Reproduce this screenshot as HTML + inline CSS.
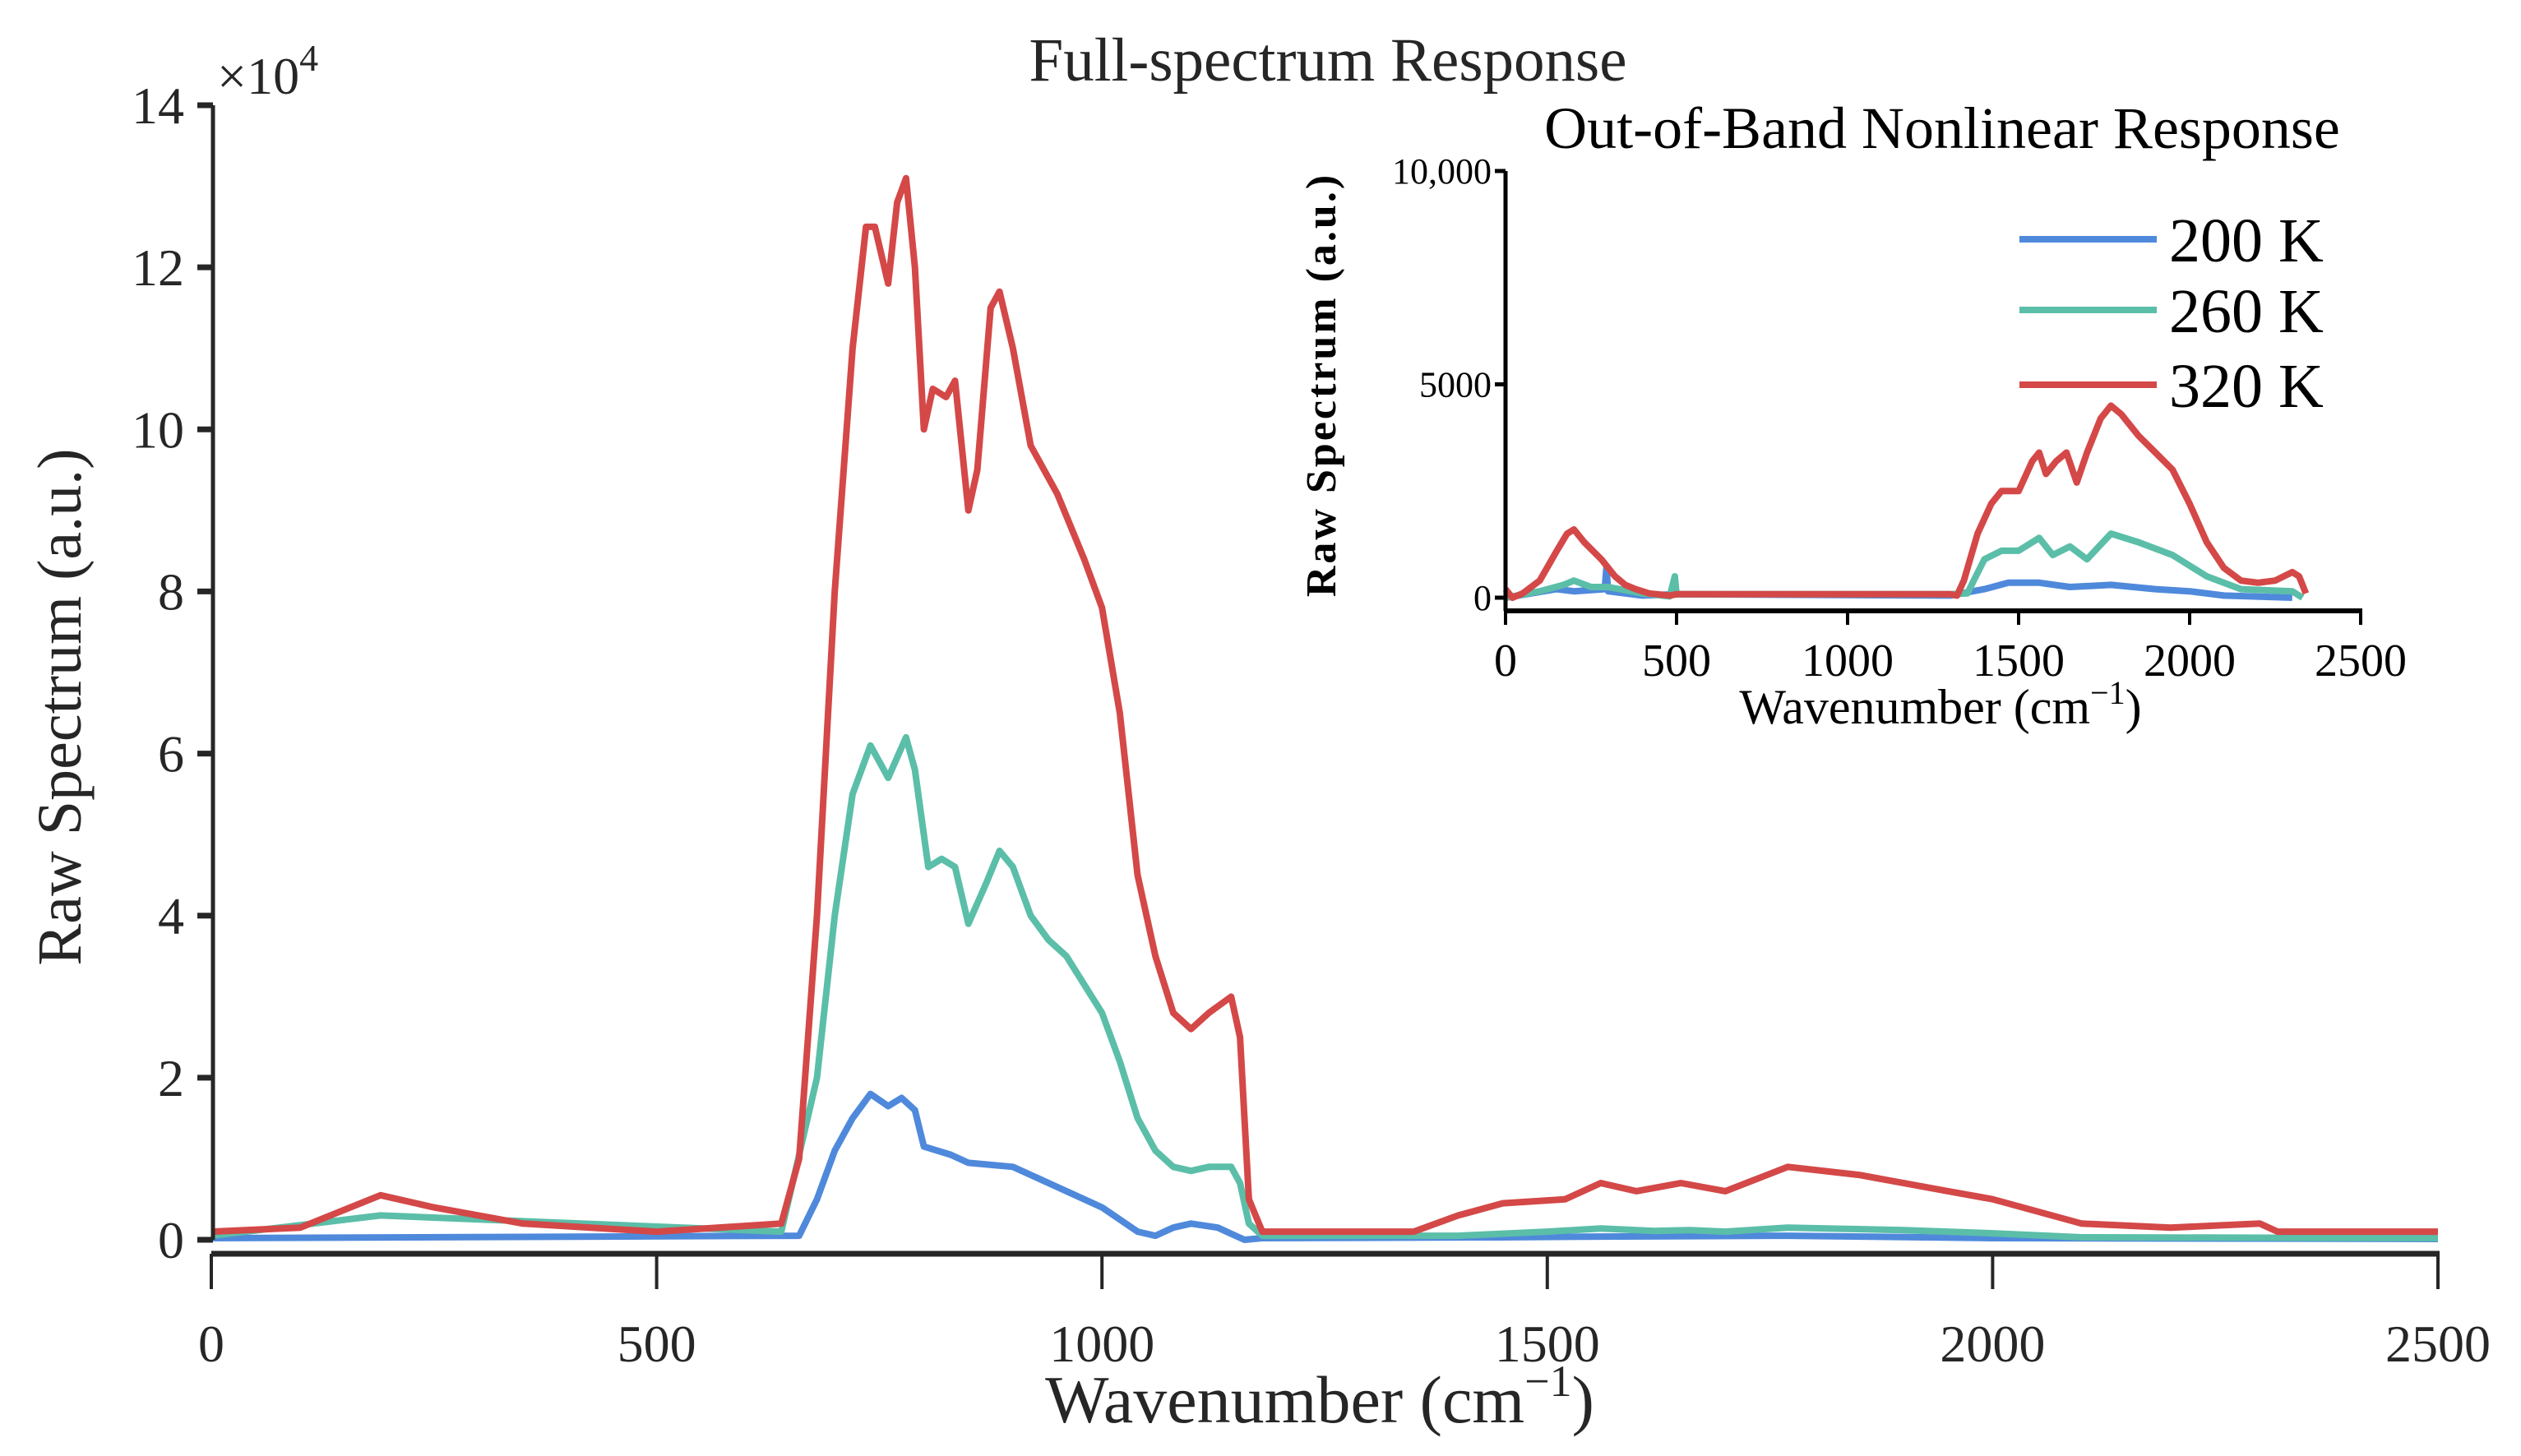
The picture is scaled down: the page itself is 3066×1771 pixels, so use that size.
<!DOCTYPE html>
<html><head><meta charset="utf-8"><style>
html,body{margin:0;padding:0;background:#fff;}
svg{display:block;font-family:"Liberation Serif",serif;}
</style></head><body>
<svg id="chart" width="3066" height="1771" viewBox="0 0 3066 1771" xmlns="http://www.w3.org/2000/svg">
<g id="main"></g>
<g id="inset"></g>
</svg>
<script>
// ---- main chart data (units of 1e4) ----
const mainX320 = [0,100,190,250,350,500,640,660,680,700,720,735,745,760,770,780,790,800,810,825,835,850,860,875,885,900,920,950,980,1000,1020,1040,1060,1080,1100,1120,1145,1155,1165,1180,1350,1400,1450,1520,1560,1600,1650,1700,1770,1850,1950,2000,2100,2200,2300,2320,2500];
const mainY320 = [0.1,0.15,0.55,0.4,0.2,0.1,0.2,1,4,8,11,12.5,12.5,11.8,12.8,13.1,12,10,10.5,10.4,10.6,9,9.5,11.5,11.7,11,9.8,9.2,8.4,7.8,6.5,4.5,3.5,2.8,2.6,2.8,3,2.5,0.5,0.1,0.1,0.3,0.45,0.5,0.7,0.6,0.7,0.6,0.9,0.8,0.6,0.5,0.2,0.15,0.2,0.1,0.1];
const mainX260 = [0,190,640,680,700,720,740,760,780,790,805,820,835,850,870,885,900,920,940,960,1000,1020,1040,1060,1080,1100,1120,1145,1155,1165,1180,1400,1500,1560,1620,1660,1700,1770,1900,2000,2100,2500];
const mainY260 = [0.05,0.3,0.1,2,4,5.5,6.1,5.7,6.2,5.8,4.6,4.7,4.6,3.9,4.4,4.8,4.6,4,3.7,3.5,2.8,2.2,1.5,1.1,0.9,0.85,0.9,0.9,0.7,0.2,0.05,0.05,0.1,0.14,0.11,0.12,0.1,0.15,0.12,0.08,0.03,0.02];
const mainX200 = [0,660,680,700,720,740,760,775,790,800,830,850,900,920,940,980,1000,1040,1060,1080,1100,1130,1150,1160,1180,1450,1560,1770,2000,2500];
const mainY200 = [0.02,0.05,0.5,1.1,1.5,1.8,1.65,1.75,1.6,1.15,1.05,0.95,0.9,0.8,0.7,0.5,0.4,0.1,0.05,0.15,0.2,0.15,0.05,0.0,0.02,0.03,0.04,0.05,0.02,0.01];
const mainYTicks = [0,2,4,6,8,10,12,14];
const mainXTicks = [0,500,1000,1500,2000,2500];
// ---- inset data (raw a.u.) ----
const insX320 = [0,20,50,100,150,180,200,230,280,320,350,380,420,480,500,1300,1320,1340,1380,1420,1450,1500,1540,1560,1580,1610,1640,1670,1700,1740,1770,1800,1850,1900,1950,2000,2050,2100,2150,2200,2250,2300,2320,2340];
const insY320 = [200,0,100,400,1100,1500,1600,1300,900,500,300,200,100,50,80,80,50,400,1500,2200,2500,2500,3200,3400,2900,3200,3400,2700,3400,4200,4500,4300,3800,3400,3000,2200,1300,700,400,350,400,600,500,100];
const insX260 = [0,100,170,200,250,300,400,480,495,500,1300,1350,1400,1450,1500,1560,1600,1650,1700,1770,1850,1950,2050,2150,2300,2330];
const insY260 = [0,150,300,400,250,250,100,30,500,80,80,100,900,1100,1100,1400,1000,1200,900,1500,1300,1000,500,200,150,0];
const insX200 = [0,150,200,290,295,300,400,500,1300,1400,1470,1560,1650,1770,1900,2000,2100,2300];
const insY200 = [0,200,150,200,700,150,50,80,50,200,350,350,250,300,200,150,50,0];
const insYTicks = [0,5000,10000];
const insYTickLabels = ["0","5000","10,000"];
const insXTicks = [0,500,1000,1500,2000,2500];
const legendLabels = ["200 K","260 K","320 K"];

const NS="http://www.w3.org/2000/svg";
const C200="#4f89db", C260="#5bbea8", C320="#d44848", AX="#262626";
function mk(parent,tag,attrs,text){const e=document.createElementNS(NS,tag);for(const k in attrs)e.setAttribute(k,attrs[k]);if(text!==undefined)e.textContent=text;parent.appendChild(e);return e;}

const mx=v=>257+v/2500*(2965-257);
const my=v=>1508-v/14*(1508-128);
const M=document.getElementById('main');
function line(g,xs,ys,fx,fy,color,name){
  let d=xs.map((x,i)=>(i?'L':'M')+fx(x).toFixed(1)+','+fy(ys[i]).toFixed(1)).join('');
  const p=mk(g,'path',{d:d,fill:'none',stroke:color,'stroke-width':8,'stroke-linejoin':'round'});
  
  
}
line(M,mainX200,mainY200,mx,my,C200,'series-200k');
line(M,mainX260,mainY260,mx,my,C260,'series-260k');
line(M,mainX320,mainY320,mx,my,C320,'series-320k');
let yax=mk(M,'line',{x1:259,y1:128,x2:259,y2:1508,stroke:AX,'stroke-width':5});


mainYTicks.forEach(t=>{
  const tk=mk(M,'line',{x1:240,y1:my(t),x2:259,y2:my(t),stroke:AX,'stroke-width':7});
  
  
  const tl=mk(M,'text',{x:224,y:my(t)+22,'font-size':64,'text-anchor':'end',fill:AX},String(t));
  
  
});
let xax=mk(M,'line',{x1:257,y1:1525,x2:2967,y2:1525,stroke:AX,'stroke-width':7});


mainXTicks.forEach(t=>{
  const tk=mk(M,'line',{x1:mx(t),y1:1525,x2:mx(t),y2:1568,stroke:AX,'stroke-width':4});
  
  
  const tl=mk(M,'text',{x:mx(t),y:1656,'font-size':64,'text-anchor':'middle',fill:AX},String(t));
  
  
});
</script>
<script>
(function(){
const M=document.getElementById('main');
const I=document.getElementById('inset');
function mk(parent,tag,attrs,text){const e=document.createElementNS("http://www.w3.org/2000/svg",tag);for(const k in attrs)e.setAttribute(k,attrs[k]);if(text!==undefined)e.textContent=text;parent.appendChild(e);return e;}
const AX="#262626";
let e;
e=mk(M,'text',{x:1615,y:98,'font-size':75,'text-anchor':'middle',fill:AX},'Full-spectrum Response');


e=mk(M,'text',{x:264,y:114,'font-size':64,fill:AX},'×10');


mk(e,'tspan',{dy:-28,'font-size':46},'4');
e=mk(M,'text',{x:1605,y:1730,'font-size':82,'text-anchor':'middle',fill:AX},'Wavenumber (cm');


mk(e,'tspan',{dy:-32,'font-size':54},'−1');
mk(e,'tspan',{dy:32},')');
e=mk(M,'text',{x:0,y:0,'font-size':76,'text-anchor':'middle',fill:AX,transform:'translate(98,860) rotate(-90)'},'Raw Spectrum (a.u.)');



const ix=v=>1831+v/2500*(2871-1831);
const iy=v=>727-v/10000*(727-208);
function line(xs,ys,color,name){
  let d=xs.map((x,i)=>(i?'L':'M')+ix(x).toFixed(1)+','+iy(ys[i]).toFixed(1)).join('');
  const p=mk(I,'path',{d:d,fill:'none',stroke:color,'stroke-width':8,'stroke-linejoin':'round'});
  
  
}
line(insX200,insY200,"#4f89db",'inset-series-200k');
line(insX260,insY260,"#5bbea8",'inset-series-260k');
line(insX320,insY320,"#d44848",'inset-series-320k');
e=mk(I,'line',{x1:1831,y1:208,x2:1831,y2:743,stroke:'#000','stroke-width':5});


e=mk(I,'line',{x1:1829,y1:743,x2:2873,y2:743,stroke:'#000','stroke-width':6});


insYTicks.forEach((t,i)=>{
  let k=mk(I,'line',{x1:1818,y1:iy(t),x2:1831,y2:iy(t),stroke:'#000','stroke-width':5});
  
  
  let l=mk(I,'text',{x:1814,y:iy(t)+15,'font-size':44,'text-anchor':'end',fill:'#000'},insYTickLabels[i]);
  
  
});
insXTicks.forEach(t=>{
  let k=mk(I,'line',{x1:ix(t),y1:743,x2:ix(t),y2:760,stroke:'#000','stroke-width':4});
  
  
  let l=mk(I,'text',{x:ix(t),y:822,'font-size':56,'text-anchor':'middle',fill:'#000'},String(t));
  
  
});
e=mk(I,'text',{x:2362,y:180,'font-size':72,'text-anchor':'middle',fill:'#000'},'Out-of-Band Nonlinear Response');


e=mk(I,'text',{x:2360,y:880,'font-size':60,'text-anchor':'middle',fill:'#000'},'Wavenumber (cm');


mk(e,'tspan',{dy:-24,'font-size':40},'−1');
mk(e,'tspan',{dy:24},')');
e=mk(I,'text',{x:0,y:0,'font-size':52,'font-weight':'bold','text-anchor':'middle',fill:'#000','letter-spacing':3,transform:'translate(1624,468) rotate(-90)'},'Raw Spectrum (a.u.)');


const cols=["#4f89db","#5bbea8","#d44848"];
const ly=[291,377,468];
legendLabels.forEach((lab,i)=>{
  let k=mk(I,'line',{x1:2456,y1:ly[i],x2:2623,y2:ly[i],stroke:cols[i],'stroke-width':8});
  
  
  let l=mk(I,'text',{x:2638,y:ly[i]+27,'font-size':76,fill:'#000'},lab);
  
  
});
})();
</script>
</body></html>
